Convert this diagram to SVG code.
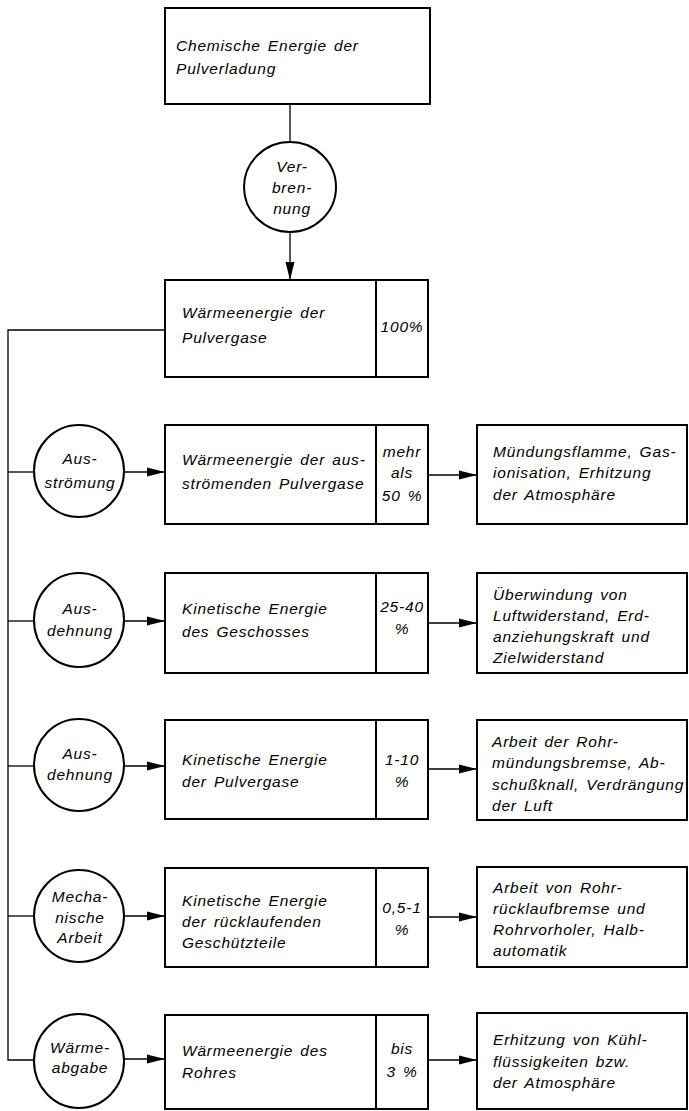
<svg xmlns="http://www.w3.org/2000/svg" width="689" height="1111" viewBox="0 0 689 1111">
<style>
.box{fill:#fff;stroke:#000;stroke-width:2}
.div{stroke:#000;stroke-width:2}
.circ{fill:#fff;stroke:#000;stroke-width:2}
.ln{fill:none;stroke:#000;stroke-width:1.3}
text{font-family:"Liberation Sans",Arial,sans-serif;font-style:italic;font-size:15.5px;letter-spacing:0.8px;word-spacing:2px;fill:#000}
.c{text-anchor:middle}
</style>
<defs>
<marker id="ah" markerUnits="userSpaceOnUse" markerWidth="18" markerHeight="10" refX="18" refY="5" orient="auto">
<path d="M0,0.5 L18,5 L0,9.5 z" fill="#000"/>
</marker>
</defs>
<rect width="689" height="1111" fill="#fff"/>
<g id="connectors">
<line class="ln" x1="290" y1="104" x2="290" y2="142"/>
<line class="ln" x1="290" y1="232" x2="290" y2="280" marker-end="url(#ah)"/>
<polyline class="ln" points="165,330 8,330 8,1060 33,1060"/>
<line class="ln" x1="8" y1="472" x2="33" y2="472"/>
<line class="ln" x1="8" y1="621" x2="33" y2="621"/>
<line class="ln" x1="8" y1="766" x2="33" y2="766"/>
<line class="ln" x1="8" y1="916" x2="33" y2="916"/>
<line class="ln" x1="124" y1="472" x2="165" y2="472" marker-end="url(#ah)"/>
<line class="ln" x1="124" y1="621" x2="165" y2="621" marker-end="url(#ah)"/>
<line class="ln" x1="124" y1="766" x2="165" y2="766" marker-end="url(#ah)"/>
<line class="ln" x1="124" y1="916" x2="165" y2="916" marker-end="url(#ah)"/>
<line class="ln" x1="124" y1="1059" x2="165" y2="1059" marker-end="url(#ah)"/>
<line class="ln" x1="428" y1="475" x2="477" y2="475" marker-end="url(#ah)"/>
<line class="ln" x1="428" y1="623" x2="477" y2="623" marker-end="url(#ah)"/>
<line class="ln" x1="428" y1="769" x2="477" y2="769" marker-end="url(#ah)"/>
<line class="ln" x1="428" y1="917" x2="477" y2="917" marker-end="url(#ah)"/>
<line class="ln" x1="428" y1="1060" x2="477" y2="1060" marker-end="url(#ah)"/>
</g>
<g id="chem">
<rect class="box" x="165" y="8" width="265" height="96"/>
<text x="176" y="51">Chemische Energie der</text>
<text x="176" y="74">Pulverladung</text>
</g>
<g id="verbrennung">
<ellipse class="circ" cx="290" cy="187" rx="46" ry="45"/>
<text class="c" x="292" y="172">Ver-</text>
<text class="c" x="292" y="193">bren-</text>
<text class="c" x="292" y="214">nung</text>
</g>
<g id="waerme">
<rect class="box" x="165" y="280" width="263" height="97"/>
<line class="div" x1="376" y1="280" x2="376" y2="377"/>
<text x="182" y="318">Wärmeenergie der</text>
<text x="182" y="343">Pulvergase</text>
<text class="c" x="402" y="332">100%</text>
</g>
<g id="c1">
<ellipse class="circ" cx="79" cy="471" rx="45" ry="46"/>
<text class="c" x="80" y="464">Aus-</text>
<text class="c" x="80" y="488">strömung</text>
</g>
<g id="b1">
<rect class="box" x="165" y="425" width="263" height="99"/>
<line class="div" x1="376" y1="425" x2="376" y2="524"/>
<text x="182" y="465">Wärmeenergie der aus-</text>
<text x="182" y="489">strömenden Pulvergase</text>
<text class="c" x="402" y="457">mehr</text>
<text class="c" x="402" y="478">als</text>
<text class="c" x="402" y="501">50 %</text>
</g>
<g id="r1">
<rect class="box" x="477" y="425" width="210" height="99"/>
<text x="493" y="457">Mündungsflamme, Gas-</text>
<text x="493" y="478">ionisation, Erhitzung</text>
<text x="493" y="500">der Atmosphäre</text>
</g>
<g id="c2">
<ellipse class="circ" cx="79" cy="620" rx="45" ry="47"/>
<text class="c" x="80" y="614">Aus-</text>
<text class="c" x="80" y="636">dehnung</text>
</g>
<g id="b2">
<rect class="box" x="165" y="573" width="263" height="100"/>
<line class="div" x1="376" y1="573" x2="376" y2="673"/>
<text x="182" y="614">Kinetische Energie</text>
<text x="182" y="637">des Geschosses</text>
<text class="c" x="402" y="612">25-40</text>
<text class="c" x="402" y="634">%</text>
</g>
<g id="r2">
<rect class="box" x="477" y="573" width="210" height="100"/>
<text x="493" y="600">Überwindung von</text>
<text x="493" y="621">Luftwiderstand, Erd-</text>
<text x="493" y="642">anziehungskraft und</text>
<text x="493" y="663">Zielwiderstand</text>
</g>
<g id="c3">
<ellipse class="circ" cx="79" cy="765" rx="45" ry="46"/>
<text class="c" x="80" y="759">Aus-</text>
<text class="c" x="80" y="780">dehnung</text>
</g>
<g id="b3">
<rect class="box" x="165" y="720" width="263" height="99"/>
<line class="div" x1="376" y1="720" x2="376" y2="819"/>
<text x="182" y="765">Kinetische Energie</text>
<text x="182" y="787">der Pulvergase</text>
<text class="c" x="402" y="765">1-10</text>
<text class="c" x="402" y="787">%</text>
</g>
<g id="r3">
<rect class="box" x="477" y="720" width="210" height="100"/>
<text x="492" y="747">Arbeit der Rohr-</text>
<text x="492" y="768">mündungsbremse, Ab-</text>
<text x="492" y="790">schußknall, Verdrängung</text>
<text x="492" y="811">der Luft</text>
</g>
<g id="c4">
<ellipse class="circ" cx="79" cy="916" rx="45" ry="46"/>
<text class="c" x="80" y="902">Mecha-</text>
<text class="c" x="80" y="923">nische</text>
<text class="c" x="80" y="943">Arbeit</text>
</g>
<g id="b4">
<rect class="box" x="165" y="868" width="263" height="99"/>
<line class="div" x1="376" y1="868" x2="376" y2="967"/>
<text x="182" y="906">Kinetische Energie</text>
<text x="182" y="927">der rücklaufenden</text>
<text x="182" y="948">Geschützteile</text>
<text class="c" x="402" y="913">0,5-1</text>
<text class="c" x="402" y="935">%</text>
</g>
<g id="r4">
<rect class="box" x="477" y="867" width="210" height="100"/>
<text x="493" y="893">Arbeit von Rohr-</text>
<text x="493" y="914">rücklaufbremse und</text>
<text x="493" y="935">Rohrvorholer, Halb-</text>
<text x="493" y="956">automatik</text>
</g>
<g id="c5">
<ellipse class="circ" cx="79" cy="1061" rx="45" ry="47"/>
<text class="c" x="80" y="1053">Wärme-</text>
<text class="c" x="80" y="1073">abgabe</text>
</g>
<g id="b5">
<rect class="box" x="165" y="1015" width="263" height="94"/>
<line class="div" x1="376" y1="1015" x2="376" y2="1109"/>
<text x="182" y="1056">Wärmeenergie des</text>
<text x="182" y="1078">Rohres</text>
<text class="c" x="402" y="1054">bis</text>
<text class="c" x="402" y="1077">3 %</text>
</g>
<g id="r5">
<rect class="box" x="477" y="1013" width="210" height="96"/>
<text x="493" y="1045">Erhitzung von Kühl-</text>
<text x="493" y="1067">flüssigkeiten bzw.</text>
<text x="493" y="1088">der Atmosphäre</text>
</g>
</svg>
